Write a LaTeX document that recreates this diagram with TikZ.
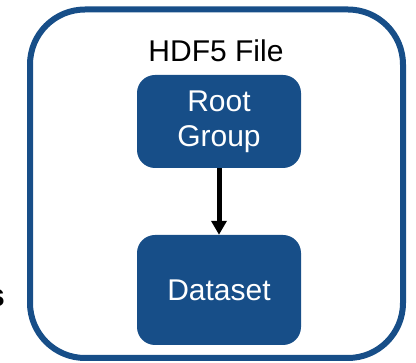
\documentclass[tikz,border=0pt]{standalone}
\usepackage{fontspec}
\setmainfont{Liberation Sans}
\usetikzlibrary{arrows.meta}
\definecolor{hdfblue}{RGB}{23,78,136}
\tikzset{
  blockbox/.style={fill=hdfblue, rounded corners=18pt, minimum width=164pt, inner sep=0pt,
    text=white, align=center, font=\fontsize{30}{35}\selectfont},
  outerbox/.style={draw=hdfblue, line width=6pt, rounded corners=55pt},
  linkarrow/.style={line width=5pt, -{Triangle[length=14pt,width=15pt]}},
}
\begin{document}
\begin{tikzpicture}[x=1pt,y=-1pt]
\useasboundingbox (0,0) rectangle (416,363);
\draw[outerbox] (30,9.5) rectangle (403,358);
\node[font=\fontsize{30}{35}\selectfont, anchor=base] (title) at (216,62) {HDF5 File};
\node[blockbox, minimum height=93pt] (root) at (219,121.5) {Root\\Group};
\node[blockbox, minimum height=110pt] (data) at (219,290) {Dataset};
\draw[linkarrow] (root.south) -- (data.north);
\node[font=\bfseries\fontsize{32}{36}\selectfont, anchor=base east, inner sep=0pt] (cut) at (5,307) {s};
\end{tikzpicture}
\end{document}
